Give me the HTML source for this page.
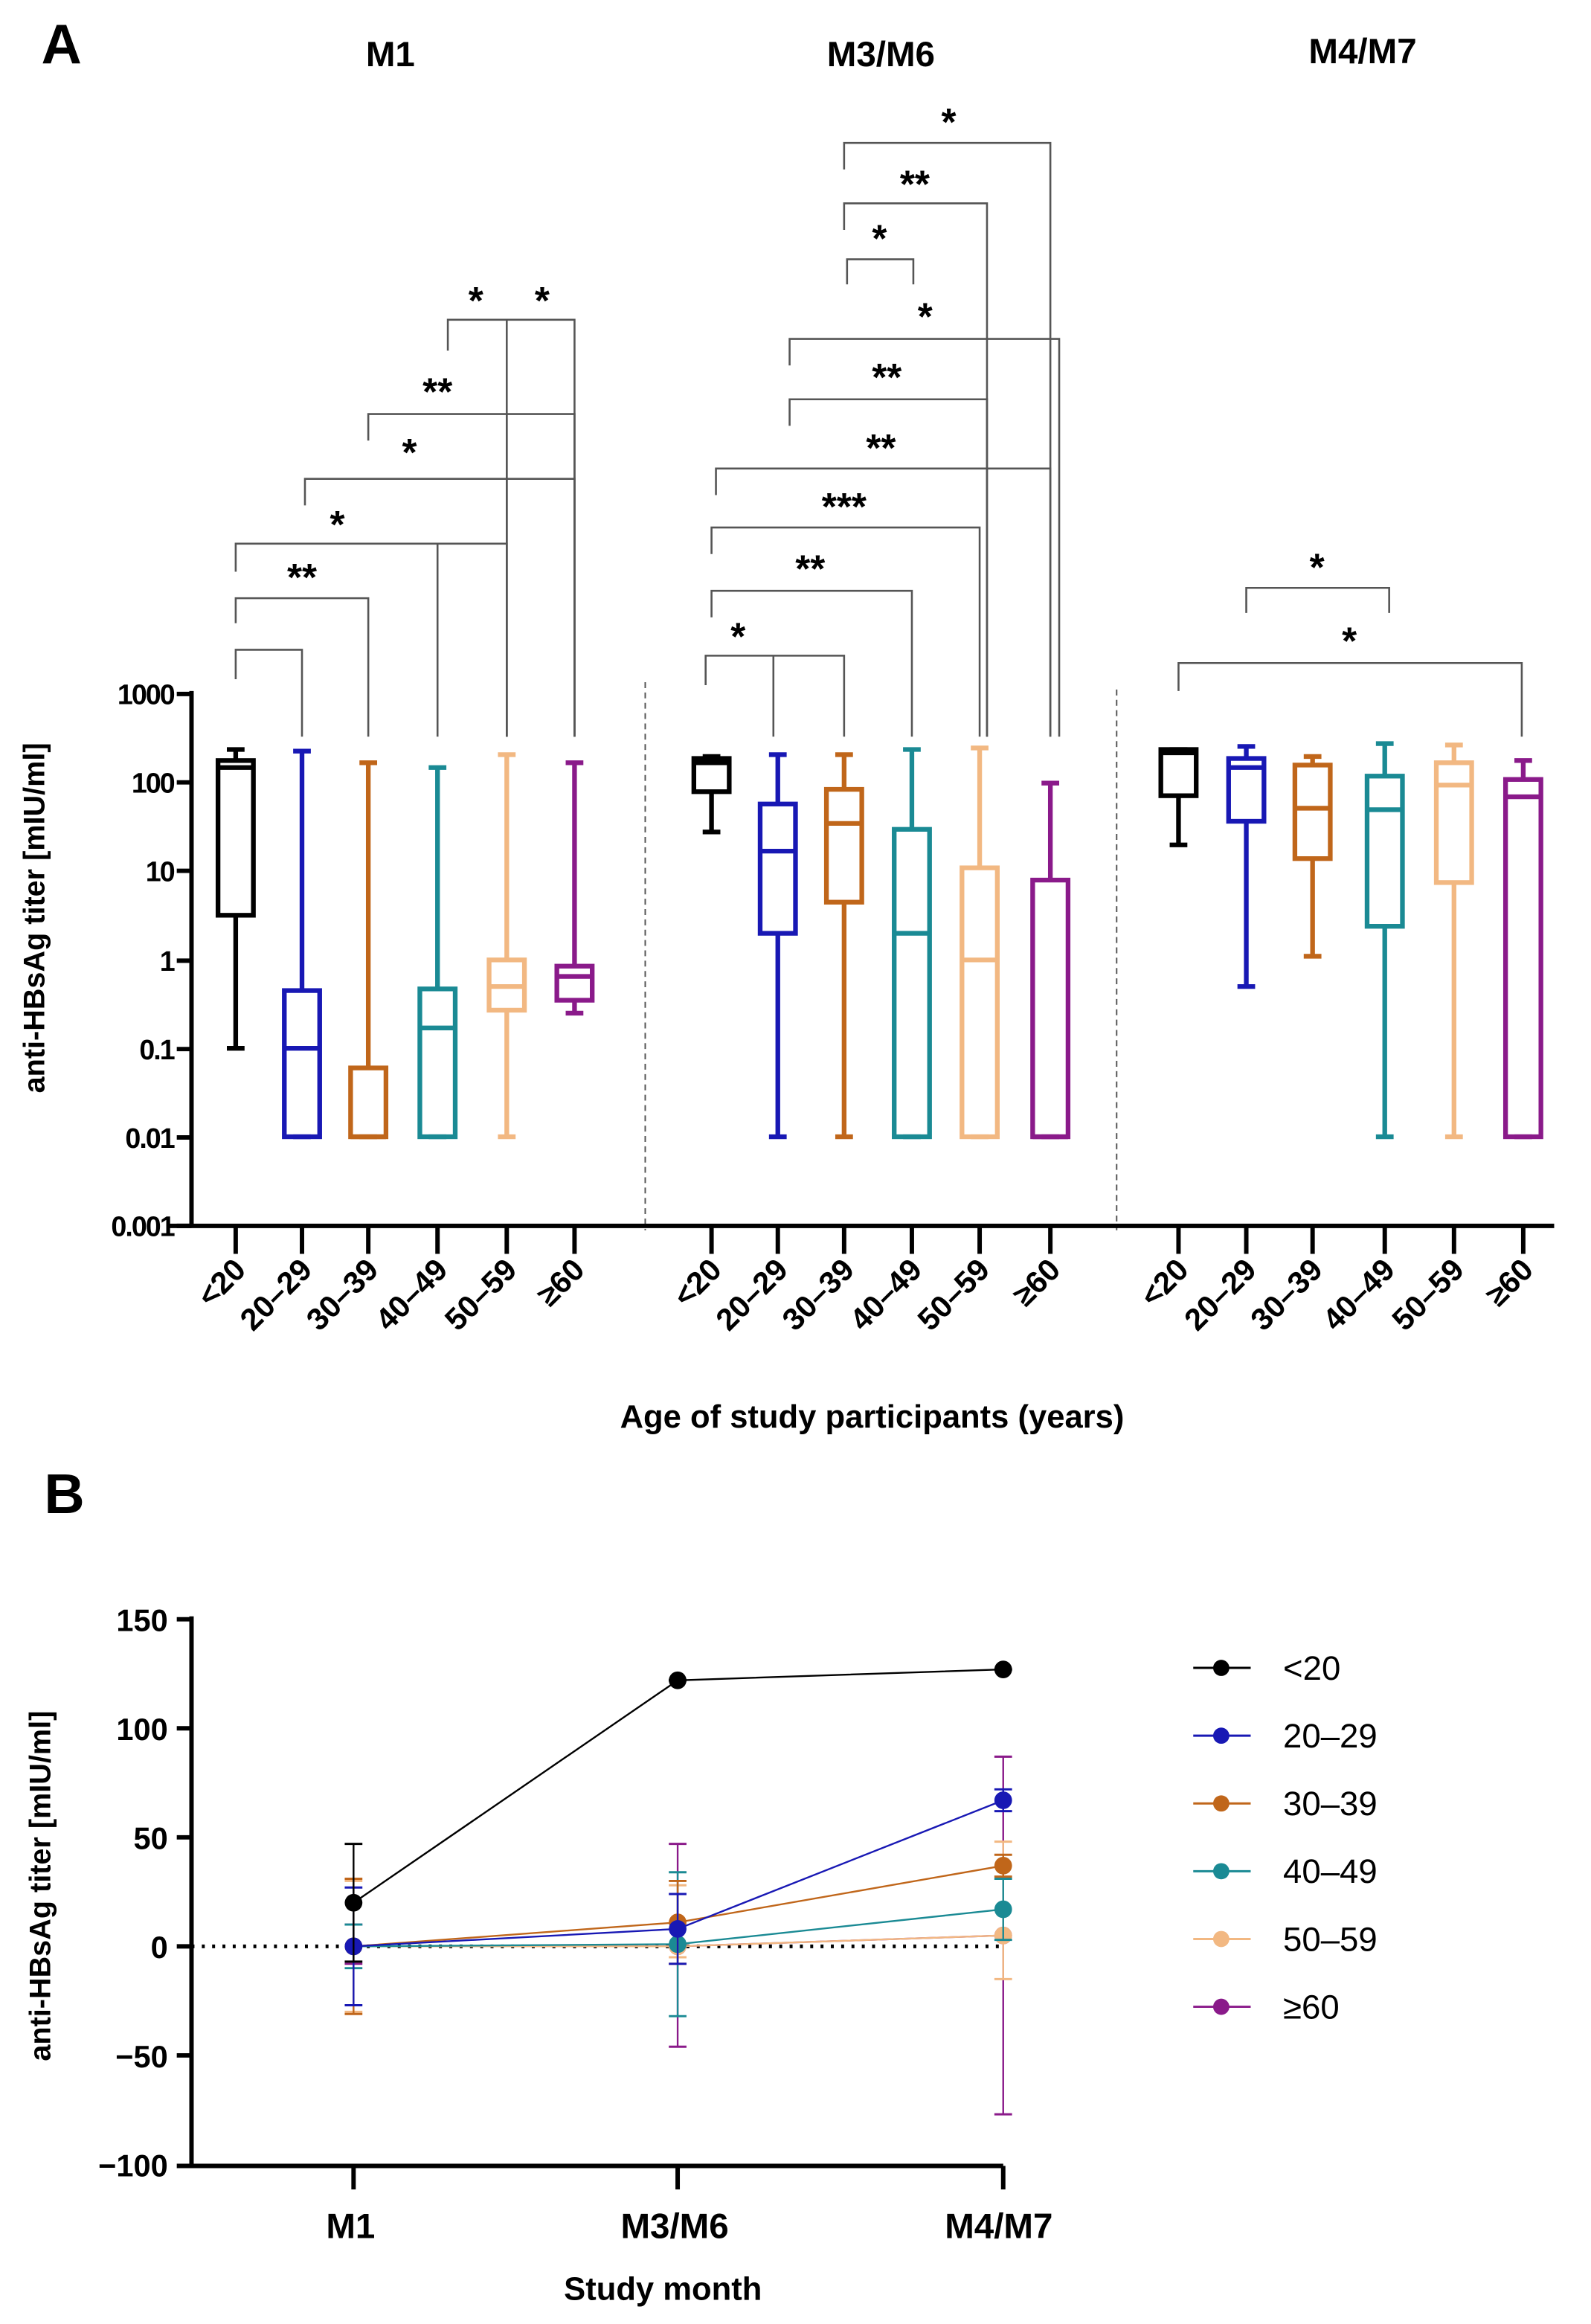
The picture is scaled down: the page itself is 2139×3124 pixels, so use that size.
<!DOCTYPE html>
<html><head><meta charset="utf-8"><style>
html,body{margin:0;padding:0;background:#fff;}
svg{display:block;}
text{font-family:"Liberation Sans",sans-serif;font-weight:bold;fill:#000;}
</style></head><body>
<svg id="s" width="2139" height="3124" viewBox="0 0 1080 1577.3" preserveAspectRatio="none" xmlns="http://www.w3.org/2000/svg">
<rect width="1080" height="1578" fill="#fff"/>
<g transform="translate(0,3)">
<text x="28" y="40" font-size="38">A</text>
<text x="265" y="42" font-size="24" text-anchor="middle">M1</text>
<text x="598" y="42" font-size="24" text-anchor="middle">M3/M6</text>
<text x="925" y="40" font-size="24" text-anchor="middle">M4/M7</text>
<g id="brk" stroke="#555" stroke-width="1.3" fill="none"></g>
<g font-size="26" text-anchor="middle">
<text x="205" y="398">**</text><text x="229" y="362">*</text><text x="278" y="313">*</text><text x="297" y="272">**</text><text x="323" y="210">*</text><text x="368" y="210">*</text>
<text x="501" y="438">*</text><text x="550" y="392">**</text><text x="573" y="350">***</text><text x="598" y="310">**</text><text x="602" y="262">**</text><text x="628" y="221">*</text><text x="597" y="168">*</text><text x="621" y="131">**</text><text x="644" y="89">*</text>
<text x="894" y="391">*</text><text x="916" y="441">*</text>
</g>
<g stroke="#555" stroke-width="1" stroke-dasharray="4,3"><line x1="438" y1="460" x2="438" y2="832"/><line x1="758" y1="465" x2="758" y2="832"/></g>
<g stroke="#000" stroke-width="3"><line x1="130" y1="466" x2="130" y2="830"/><line x1="115" y1="829" x2="1055" y2="829"/></g>
<g id="ytA" stroke="#000" stroke-width="3"></g>
<g font-size="19" text-anchor="end" style="letter-spacing:-1px">
<text x="118" y="475">1000</text><text x="118" y="535">100</text><text x="118" y="595">10</text><text x="118" y="656">1</text><text x="118" y="716">0.1</text><text x="118" y="776">0.01</text><text x="118" y="836">0.001</text>
</g>
<text transform="translate(30,620) rotate(-90)" font-size="20" text-anchor="middle">anti-HBsAg titer [mIU/ml]</text>
<g id="boxes" fill="none" stroke-width="3.2"></g>
<text x="592" y="966" font-size="22" text-anchor="middle">Age of study participants (years)</text>
<g font-size="21" text-anchor="end">
<text transform="translate(168,860) rotate(-45)">&lt;20</text><text transform="translate(213,860) rotate(-45)">20–29</text><text transform="translate(258,860) rotate(-45)">30–39</text><text transform="translate(305,860) rotate(-45)">40–49</text><text transform="translate(352,860) rotate(-45)">50–59</text><text transform="translate(398,860) rotate(-45)">≥60</text>
<text transform="translate(491,860) rotate(-45)">&lt;20</text><text transform="translate(536,860) rotate(-45)">20–29</text><text transform="translate(581,860) rotate(-45)">30–39</text><text transform="translate(627,860) rotate(-45)">40–49</text><text transform="translate(673,860) rotate(-45)">50–59</text><text transform="translate(721,860) rotate(-45)">≥60</text>
<text transform="translate(808,860) rotate(-45)">&lt;20</text><text transform="translate(854,860) rotate(-45)">20–29</text><text transform="translate(899,860) rotate(-45)">30–39</text><text transform="translate(948,860) rotate(-45)">40–49</text><text transform="translate(995,860) rotate(-45)">50–59</text><text transform="translate(1042,860) rotate(-45)">≥60</text>
</g>
</g>

<text x="30" y="1027" font-size="38">B</text>
<line x1="130" y1="1321" x2="680" y2="1321" stroke="#000" stroke-width="2.5" stroke-dasharray="2,5"/>
<g stroke="#000" stroke-width="3"><line x1="130" y1="1097" x2="130" y2="1471"/><line x1="120" y1="1470" x2="681" y2="1470"/>
<line x1="120" y1="1099" x2="130" y2="1099"/><line x1="120" y1="1173" x2="130" y2="1173"/><line x1="120" y1="1247" x2="130" y2="1247"/><line x1="120" y1="1321" x2="130" y2="1321"/><line x1="120" y1="1395" x2="130" y2="1395"/>
<line x1="240" y1="1470" x2="240" y2="1486"/><line x1="460" y1="1470" x2="460" y2="1486"/><line x1="681" y1="1470" x2="681" y2="1486"/></g>
<g font-size="21" text-anchor="end">
<text x="114" y="1107">150</text><text x="114" y="1181">100</text><text x="114" y="1255">50</text><text x="114" y="1329">0</text><text x="114" y="1403">−50</text><text x="114" y="1477">−100</text>
</g>
<text transform="translate(34,1280) rotate(-90)" font-size="20" text-anchor="middle">anti-HBsAg titer [mIU/ml]</text>
<g font-size="24" text-anchor="middle"><text x="238" y="1519">M1</text><text x="458" y="1519">M3/M6</text><text x="678" y="1519">M4/M7</text></g>
<text x="450" y="1561" font-size="22" text-anchor="middle">Study month</text>
<g id="ser"></g>
<g font-size="23" style="font-weight:normal">
<text x="871" y="1140" style="font-weight:normal">&lt;20</text><text x="871" y="1186" style="font-weight:normal">20–29</text><text x="871" y="1232" style="font-weight:normal">30–39</text><text x="871" y="1278" style="font-weight:normal">40–49</text><text x="871" y="1324" style="font-weight:normal">50–59</text><text x="871" y="1370" style="font-weight:normal">≥60</text>
</g>
<g id="leg"></g>
</svg>
<script>
var NS="http://www.w3.org/2000/svg";
function el(p,t,a){var e=document.createElementNS(NS,t);for(var k in a)e.setAttribute(k,a[k]);document.getElementById(p).appendChild(e);return e;}
var C=["#000","#1818b4","#c0661a","#1a8a94","#f2b882","#8a1a8a"];
function Y(v){return 648.5-60*Math.log10(v);}
[468,528,588,649,709,769,829].forEach(function(y){el("ytA","line",{x1:120,y1:y,x2:130,y2:y});});
var X=[[160,205,250,297,344,390],[483,528,573,619,665,713],[800,846,891,940,987,1034]];
X.forEach(function(g){g.forEach(function(x){el("ytA","line",{x1:x,y1:829,x2:x,y2:848});});});
var D=[
[[0.1,3.2,150,180,240],[0.01,0.01,0.1,0.45,230],[0.01,0.01,0.01,0.06,170],[0.01,0.01,0.17,0.47,150],[0.01,0.27,0.5,1.0,210],[0.25,0.35,0.65,0.85,170]],
[[28,80,170,190,200],[0.01,2,17,58,210],[0.01,4.5,35,85,210],[0.01,0.01,2,30,240],[0.01,0.01,1,11,250],[0.01,0.01,0.01,8,100]],
[[20,72,220,240,240],[0.5,37,150,190,260],[1.1,14,52,160,200],[0.01,2.4,50,120,280],[0.01,7.5,95,170,270],[0.01,0.01,70,110,180]]];
D.forEach(function(g,gi){g.forEach(function(b,i){var x=X[gi][i],c=C[i],w=12;
el("boxes","line",{x1:x,y1:Y(b[4]),x2:x,y2:Y(b[3]),stroke:c});
el("boxes","line",{x1:x,y1:Y(b[1]),x2:x,y2:Y(b[0]),stroke:c});
el("boxes","line",{x1:x-6,y1:Y(b[4]),x2:x+6,y2:Y(b[4]),stroke:c});
el("boxes","line",{x1:x-6,y1:Y(b[0]),x2:x+6,y2:Y(b[0]),stroke:c});
el("boxes","rect",{x:x-w,y:Y(b[3]),width:2*w,height:Math.max(Y(b[1])-Y(b[3]),1),stroke:c});
el("boxes","line",{x1:x-w,y1:Y(b[2]),x2:x+w,y2:Y(b[2]),stroke:c});});});
var B=[[438,160,205,458,497,[]],[403,160,250,420,497,[]],[366,160,344,385,497,[297]],[322,207,390,340,497,[344]],[278,250,390,296,497,[344]],[214,304,390,235,497,[344]],
[442,479,573,462,497,[525]],[398,483,619,416,497,[]],[355,483,665,373,497,[]],[315,486,713,333,497,[]],[268,536,670,286,497,[]],[227,536,719,245,497,[]],[173,575,620,190,190,[]],[135,573,670,153,497,[]],[94,573,713,112,497,[]],
[396,846,943,413,413,[]],[447,800,1033,466,497,[]]];
B.forEach(function(b){el("brk","polyline",{points:b[1]+","+b[3]+" "+b[1]+","+b[0]+" "+b[2]+","+b[0]+" "+b[2]+","+b[4]});
b[5].forEach(function(x){el("brk","line",{x1:x,y1:b[0],x2:x,y2:497});});});
function YB(v){return 1321-1.48*v;}
var MX=[240,460,681];
var S=[[[20,47,-7],[122,122,122],[127,127,127]],[[0,27,-27],[8,24,-8],[67,72,62]],[[0,31,-31],[11,30,-8],[37,42,32]],[[0,10,-10],[1,34,-32],[17,31,3]],[[0,30,-30],[0,28,-5],[5,48,-15]],[[0,10,-8],[0,47,-46],[5,87,-77]]];
for(var i=5;i>=0;i--){var s=S[i],c=C[i];
el("ser","polyline",{points:s.map(function(p,j){return MX[j]+","+YB(p[0]);}).join(" "),stroke:c,fill:"none","stroke-width":1.2});
s.forEach(function(p,j){var x=MX[j];el("ser","line",{x1:x,y1:YB(p[1]),x2:x,y2:YB(p[2]),stroke:c,"stroke-width":1.2});
[p[1],p[2]].forEach(function(v){el("ser","line",{x1:x-6,y1:YB(v),x2:x+6,y2:YB(v),stroke:c,"stroke-width":1.5});});
el("ser","circle",{cx:x,cy:YB(p[0]),r:6,fill:c});});}
[1132,1178,1224,1270,1316,1362].forEach(function(y,i){el("leg","line",{x1:810,y1:y,x2:849,y2:y,stroke:C[i],"stroke-width":1.5});el("leg","circle",{cx:829,cy:y,r:5.5,fill:C[i]});});
</script>
</body></html>
